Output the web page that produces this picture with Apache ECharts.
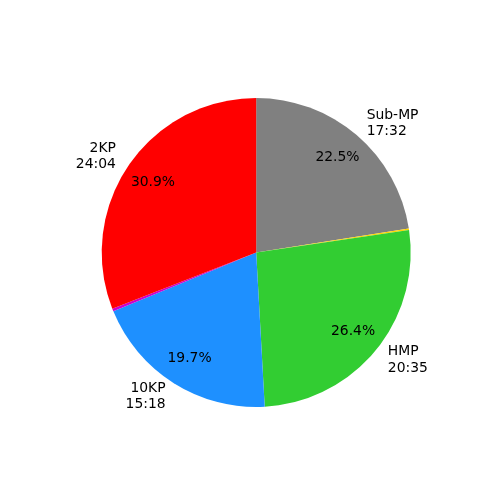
<!DOCTYPE html>
<html><head><meta charset="utf-8">
<script src="https://cdn.jsdelivr.net/npm/echarts@6/dist/echarts.min.js"></script>
<style>html,body{margin:0;padding:0;background:#fff}#c{width:500px;height:500px}</style>
</head><body><div id="c"></div>
<script>
const categories = ['Sub-MP', '', 'HMP', '10KP', '', '2KP'];
const timeLabels = ['17:32', '', '20:35', '15:18', '', '24:04'];
const minutes = [1052, 7, 1235, 918, 14, 1444];
const colors = ['#808080', '#FFD700', '#32CD32', '#1E90FF', '#CC00CC', '#FF0000'];

const R = 154.5;
const font = 'DejaVu Sans';
const fs = 13.9;

const mainData = categories.map((n, i) => ({
  name: n, value: minutes[i],
  itemStyle: { color: colors[i] },
  label: { show: n !== '' }
}));
const pctData = categories.map((n, i) => ({
  name: n, value: minutes[i],
  itemStyle: { color: 'rgba(0,0,0,0)' },
  label: { show: n !== '' }
}));

const chart = echarts.init(document.getElementById('c'), null, { renderer: 'canvas' });
chart.setOption({
  animation: false,
  backgroundColor: '#fff',
  series: [
    {
      type: 'pie', center: [256.2, 252.5], radius: [0, R],
      startAngle: 90, clockwise: true, avoidLabelOverlap: false,
      silent: true,
      itemStyle: { borderWidth: 0 },
      label: {
        position: 'outside', distanceToLabelLine: 0,
        fontFamily: font, fontSize: fs, color: '#000', lineHeight: 16.5,
        formatter: p => p.name + '\n' + timeLabels[p.dataIndex]
      },
      labelLine: { show: false, length: R * 0.1, length2: 0 },
      data: mainData
    },
    {
      type: 'pie', center: [256.2, 252.5], radius: [0, R * 1.58],
      startAngle: 90, clockwise: true, avoidLabelOverlap: false,
      silent: true, percentPrecision: 1, z: 5,
      label: {
        position: 'inside', fontFamily: font, fontSize: fs, color: '#000',
        formatter: '{d}%'
      },
      labelLine: { show: false },
      data: pctData
    }
  ]
});
</script></body></html>
